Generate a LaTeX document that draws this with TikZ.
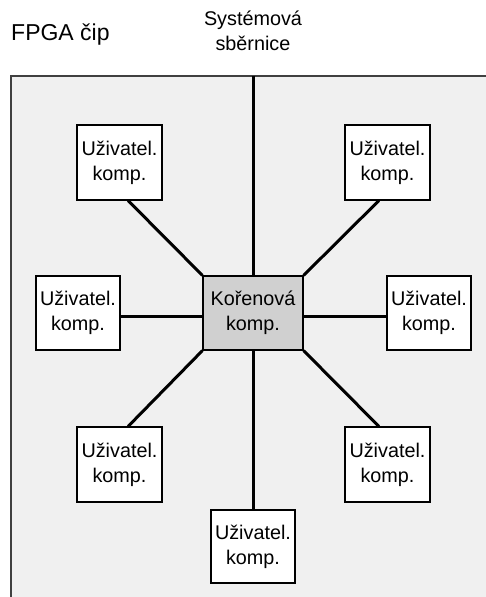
\documentclass[tikz,border=0pt]{standalone}
\usepackage{fontspec}
\setmainfont{Liberation Sans}
\usetikzlibrary{calc}
\definecolor{chipfill}{RGB}{240,240,240}
\definecolor{chipline}{RGB}{64,64,64}
\definecolor{rootfill}{RGB}{208,208,208}
\begin{document}
\begin{tikzpicture}[x=1pt,y=-1pt,
  txt/.style={font=\fontsize{19.8}{25}\selectfont, align=center, inner sep=0pt},
  ubox/.style={txt, draw=black, line width=1.2pt, fill=white, minimum width=85pt, minimum height=75pt},
  rbox/.style={ubox, fill=rootfill, minimum width=100pt, minimum height=74pt},
  conn/.style={line width=3pt, black}]
\useasboundingbox (0,0) rectangle (485,597);
% chip area
\fill[chipfill] (11,76) rectangle (490,602);
\draw[chipline, line width=1.5pt] (490,76) -- (11,76) -- (11,602);
\coordinate (bus) at (253,76);
% labels
\node[txt, font=\fontsize{23}{27}\selectfont, anchor=west] (fpga) at (11,35) {FPGA čip};
\node[txt] (sb) at (253,31) {Systémová\\sběrnice};
% nodes
\node[rbox] (root) at (253,313) {Kořenová\\komp.};
\node[ubox] (tl) at (119.5,162.5) {Uživatel.\\komp.};
\node[ubox] (tr) at (387.5,162.5) {Uživatel.\\komp.};
\node[ubox, minimum width=84pt, minimum height=74pt] (ml) at (78,313) {Uživatel.\\komp.};
\node[ubox, minimum width=84pt, minimum height=74pt] (mr) at (429,313) {Uživatel.\\komp.};
\node[ubox] (bl) at (119.5,464.5) {Uživatel.\\komp.};
\node[ubox] (br) at (387.5,464.5) {Uživatel.\\komp.};
\node[ubox, minimum width=84pt, minimum height=73pt] (bc) at (253,546.5) {Uživatel.\\komp.};
% connectors
\draw[conn] (bus) -- (root.north);
\draw[conn] (root.south) -- (bc.north);
\draw[conn] ([yshift=-3pt]ml.east) -- ([yshift=-3pt]root.west);
\draw[conn] ([yshift=-3pt]root.east) -- ([yshift=-3pt]mr.west);
\draw[conn] (root.north west) -- ($(tl.south west)!0.6!(tl.south east)$);
\draw[conn] (root.north east) -- ($(tr.south west)!0.4!(tr.south east)$);
\draw[conn] (root.south west) -- ($(bl.north west)!0.6!(bl.north east)$);
\draw[conn] (root.south east) -- ($(br.north west)!0.4!(br.north east)$);
\end{tikzpicture}
\end{document}
